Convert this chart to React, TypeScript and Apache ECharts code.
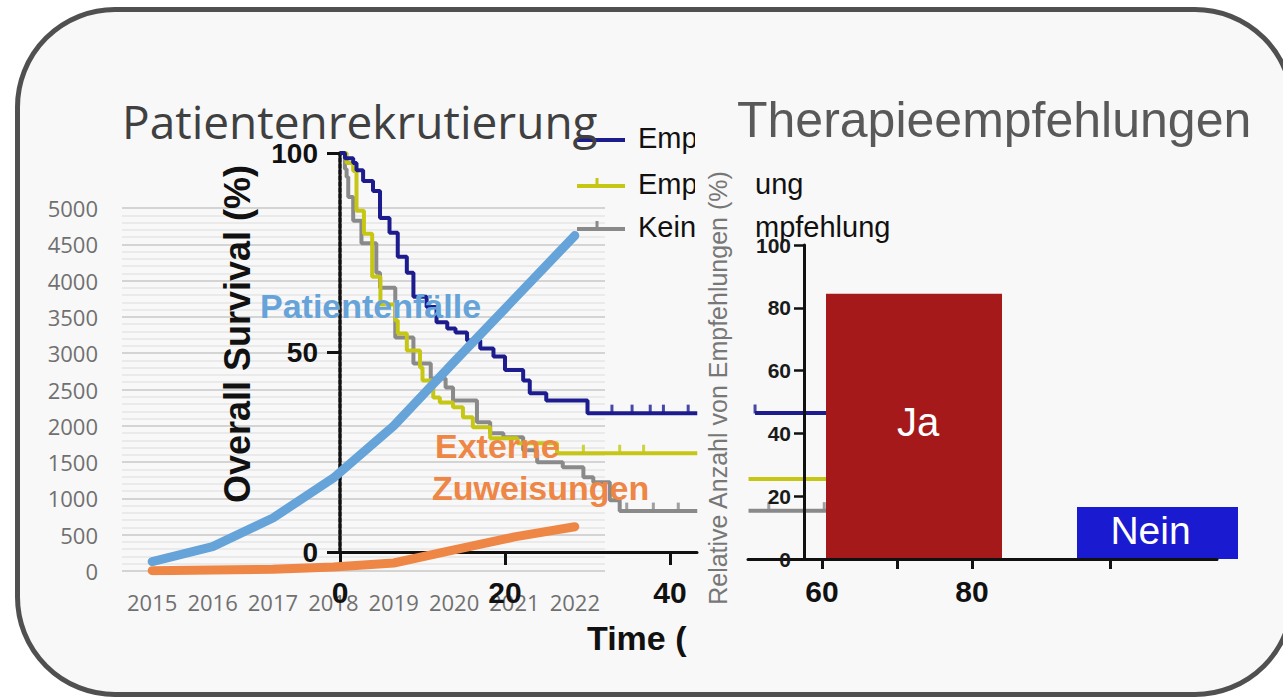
import React, { useEffect, useRef } from "react";
import * as echarts from "echarts";

// ---------- data ----------
const years = ["2015", "2016", "2017", "2018", "2019", "2020", "2021", "2022"];
const patientCases = [130, 335, 730, 1280, 2000, 2880, 3750, 4620];
const externalReferrals = [5, 15, 25, 55, 110, 290, 470, 610];

// Kaplan-Meier curves: [time, survival %]
const kmImplemented = [
  [0, 100], [0.6, 98.7], [1.6, 97.5], [2, 95.7], [2.8, 93], [4, 90.5], [4.85, 83.7], [6, 80],
  [7, 74], [8.1, 70], [8.9, 64], [10.5, 61.4], [11.7, 57.6], [13, 56], [14, 55], [15.4, 53],
  [17, 51], [18.6, 49], [20, 45.6], [22.2, 43], [23, 39.8], [25, 38], [30, 34.8], [43.3, 34.8],
];
const kmNotImplemented = [
  [0, 100], [0.8, 97.5], [1.6, 95.5], [2, 85.5], [2.9, 79.75], [3.9, 69], [4.9, 62], [6.7, 58],
  [7, 54.75], [8.1, 50.5], [9.7, 46.25], [10, 43], [11.3, 38.75], [12.1, 37.5], [13.7, 36.25],
  [14.9, 33.75], [16.1, 31.25], [18.2, 28.5], [21.5, 27.25], [26.3, 24.75], [43.3, 24.75],
];
const kmNoRecommendation = [
  [0, 100], [0.6, 96], [0.8, 94], [1, 89], [1.6, 83], [2.6, 77.4], [4.4, 70], [4.85, 66.25],
  [6.7, 53.75], [8.9, 47.25], [11, 43.5], [12.8, 41.25], [13.7, 38], [16.6, 32.5], [18.2, 29.75],
  [19.8, 28.75], [22.2, 25.5], [23.9, 22.5], [27, 21.25], [29.5, 18.75], [30.7, 17.5], [32.7, 13],
  [33.9, 10.25], [43.3, 10.25],
];
const censorImplemented = [[32.96, 34.8], [35.4, 34.8], [37.6, 34.8], [39.2, 34.8], [42.2, 34.8]];
const censorNotImplemented = [[29.5, 24.75], [33.9, 24.75], [36.8, 24.75]];
const censorNone = [[34.75, 10.25], [37.98, 10.25], [41.0, 10.25]];

// curve pieces visible in the right panel (bar-chart scale)
const panelImplemented = [[51.07, 46.5], [62.4, 46.5]];
const panelNotImplemented = [[50.2, 25.5], [62.4, 25.5]];
const panelNone = [[50.2, 15.4], [60.6, 15.4]];
const panelCensorImplemented = [[51.07, 46.5]];
const panelCensorNone = [[52.9, 15.4], [60.3, 15.4]];

const barCategories = ["Ja", "Nein"];
const barValues = [84.5, 16.6];

const kmTimeTicks = [0, 20, 40];
const barXTicks = [60, 70, 80, 98.4];
const barXLabels = [60, 80];

const legendFragments = ["Empf", "Empf", "Kein"];
const legendTails = ["ung", "mpfehlung"];

// ---------- styles ----------
const ARIAL = '"Liberation Sans", Arial, sans-serif';
const OPEN = '"Open Sans", sans-serif';
const BG = "#f8f8f8";
const NAVY = "#1c1c8e";
const YELLOW = "#c6c615";
const GRAY = "#8a8a8a";
const BLUE = "#66a3d8";
const ORANGE = "#ee8646";

function buildOption() {
  const txt = (text: string, x: number, y: number, size: number, fill: string, extra: any = {}, z = 6) => ({
    type: "text",
    x,
    y,
    z,
    rotation: extra.rotation || 0,
    style: {
      text,
      fill,
      fontSize: size,
      fontFamily: extra.family || ARIAL,
      fontWeight: extra.weight || "normal",
      align: extra.align || "left",
      verticalAlign: "middle",
    },
  });
  const lineEl = (x1: number, y1: number, x2: number, y2: number, stroke: string, w = 4, z = 4) => ({
    type: "line",
    z,
    shape: { x1, y1, x2, y2 },
    style: { stroke, lineWidth: w },
  });

  const legendColors = [NAVY, YELLOW, GRAY];
  const legendY = [138, 184, 227];

  const graphic: any[] = [
    txt("Patientenrekrutierung", 122, 121, 46, "#404040", { family: OPEN }, 6),
    txt("Patientenfälle", 260, 306, 34, BLUE, { weight: "bold" }, 6),
    txt("Externe", 435, 446, 34, ORANGE, { weight: "bold" }, 6),
    txt("Zuweisungen", 432, 488, 34, ORANGE, { weight: "bold" }, 6),
    txt("Overall Survival (%)", 237, 334, 36, "#111", { weight: "bold", rotation: Math.PI / 2, align: "center" }, 3),
    txt("Time (", 587, 638, 34, "#111", { weight: "bold" }, 3),
  ];
  legendFragments.forEach((t, i) => {
    graphic.push(lineEl(577, legendY[i] + 2, 625, legendY[i] + 2, legendColors[i]));
    if (i > 0) graphic.push(lineEl(597, legendY[i] + 2, 597, legendY[i] - 6, legendColors[i], 3));
    graphic.push(txt(t, 638, legendY[i], 29, "#111", {}, 4));
  });
  graphic.push({ type: "rect", z: 7, shape: { x: 695, y: 112, width: 58, height: 140 }, style: { fill: BG } });
  graphic.push(txt("Therapieempfehlungen", 737, 120, 50, "#595959", {}, 10));
  graphic.push(txt(legendTails[0], 755, 184, 29, "#111", {}, 10));
  graphic.push(txt(legendTails[1], 755, 227, 29, "#111", {}, 10));
  graphic.push(
    txt("Relative Anzahl von Empfehlungen (%)", 718, 388, 25, "#777", { rotation: Math.PI / 2, align: "center" }, 10)
  );

  const kmLine = (name: string, data: number[][], color: string) => ({
    type: "line",
    name,
    xAxisIndex: 1,
    yAxisIndex: 1,
    data,
    step: "end",
    showSymbol: false,
    lineStyle: { color, width: 4 },
    z: 3,
  });
  const censor = (data: number[][], color: string, xi: number, yi: number, z: number) => ({
    type: "scatter",
    xAxisIndex: xi,
    yAxisIndex: yi,
    data,
    symbol: "rect",
    symbolSize: [3, 9],
    symbolOffset: [0, -4],
    itemStyle: { color },
    z,
    clip: false,
  });
  const panelLine = (data: number[][], color: string) => ({
    type: "line",
    xAxisIndex: 2,
    yAxisIndex: 2,
    data,
    showSymbol: false,
    lineStyle: { color, width: 4 },
    z: 8,
  });
  const barLabel = (size: number, offset: number[]) => ({
    show: true,
    position: "inside",
    formatter: "{b}",
    color: "#fff",
    fontSize: size,
    fontFamily: ARIAL,
    offset,
  });

  return {
    animation: false,
    backgroundColor: "transparent",
    graphic,
    grid: [
      { left: 122, right: 678, top: 208, bottom: 128 },
      { left: 340, right: 586, top: 153, bottom: 147 },
      { left: 748, right: 66, top: 245, bottom: 140 },
      { left: 826, right: 281, top: 245, bottom: 140 },
      { left: 1077, right: 45, top: 245, bottom: 140 },
    ],
    xAxis: [
      {
        gridIndex: 0,
        type: "category",
        data: years,
        boundaryGap: true,
        axisLine: { show: false },
        axisTick: { show: false },
        axisLabel: { color: "#707070", fontSize: 22, fontFamily: OPEN, margin: 20, interval: 0 },
        z: 0,
      },
      {
        gridIndex: 1,
        type: "value",
        min: 0,
        max: 43.27,
        splitLine: { show: false },
        axisLine: { lineStyle: { color: "#111", width: 3 } },
        axisTick: { customValues: kmTimeTicks, length: 13, lineStyle: { color: "#111", width: 3 } },
        axisLabel: { customValues: kmTimeTicks, fontSize: 30, fontWeight: "bold", color: "#111", fontFamily: ARIAL, margin: 25 },
        z: 3,
      },
      {
        gridIndex: 2,
        type: "value",
        min: 50.13,
        max: 112.67,
        splitLine: { show: false },
        axisLine: { lineStyle: { color: "#111", width: 3 } },
        axisTick: { customValues: barXTicks, length: 10, lineStyle: { color: "#111", width: 3 } },
        axisLabel: { customValues: barXLabels, fontSize: 30, fontWeight: "bold", color: "#111", fontFamily: ARIAL, margin: 17 },
        z: 10,
      },
      { gridIndex: 3, type: "category", data: [barCategories[0]], show: false },
      { gridIndex: 4, type: "category", data: [barCategories[1]], show: false },
    ],
    yAxis: [
      {
        gridIndex: 0,
        type: "value",
        min: 0,
        max: 5000,
        interval: 500,
        axisLine: { show: false },
        axisTick: { show: false },
        axisLabel: { color: "#707070", fontSize: 22, fontFamily: OPEN, margin: 24, formatter: (v: number) => String(v) },
        splitLine: { show: true, lineStyle: { color: "#d4d4d4", width: 2 } },
        minorTick: { show: false, splitNumber: 5 },
        minorSplitLine: { show: true, lineStyle: { color: "#e6e6e6", width: 1.5 } },
        z: 0,
      },
      {
        gridIndex: 1,
        type: "value",
        min: 0,
        max: 100,
        interval: 50,
        splitLine: { show: false },
        axisLine: { show: true, lineStyle: { color: "#111", width: 3.5, type: [4, 2] } },
        axisTick: { show: true, length: 13, lineStyle: { color: "#111", width: 3 } },
        axisLabel: { fontSize: 28, fontWeight: "bold", color: "#111", fontFamily: ARIAL, margin: 22 },
        z: 3,
      },
      {
        gridIndex: 2,
        type: "value",
        min: 0,
        max: 100,
        interval: 20,
        offset: -56,
        splitLine: { show: false },
        axisLine: { show: true, lineStyle: { color: "#111", width: 3 } },
        axisTick: { show: true, length: 10, lineStyle: { color: "#111", width: 2.5 } },
        axisLabel: { fontSize: 21, fontWeight: "bold", color: "#1a1a1a", fontFamily: ARIAL, margin: 13 },
        z: 10,
      },
      { gridIndex: 3, type: "value", min: 0, max: 100, show: false },
      { gridIndex: 4, type: "value", min: 0, max: 100, show: false },
    ],
    series: [
      kmLine("Keine Empfehlung", kmNoRecommendation, GRAY),
      kmLine("Empfehlung nicht umgesetzt", kmNotImplemented, YELLOW),
      kmLine("Empfehlung umgesetzt", kmImplemented, NAVY),
      censor(censorNone, GRAY, 1, 1, 3),
      censor(censorNotImplemented, YELLOW, 1, 1, 3),
      censor(censorImplemented, NAVY, 1, 1, 3),
      {
        type: "line",
        name: "Patientenfälle",
        xAxisIndex: 0,
        yAxisIndex: 0,
        data: patientCases,
        showSymbol: false,
        lineStyle: { color: BLUE, width: 9, cap: "round", join: "round" },
        z: 5,
      },
      {
        type: "line",
        name: "Externe Zuweisungen",
        xAxisIndex: 0,
        yAxisIndex: 0,
        data: externalReferrals,
        showSymbol: false,
        lineStyle: { color: ORANGE, width: 9, cap: "round", join: "round" },
        z: 5,
      },
      panelLine(panelNone, GRAY),
      panelLine(panelNotImplemented, YELLOW),
      panelLine(panelImplemented, NAVY),
      censor(panelCensorNone, GRAY, 2, 2, 8),
      censor(panelCensorImplemented, NAVY, 2, 2, 8),
      {
        type: "bar",
        name: barCategories[0],
        xAxisIndex: 3,
        yAxisIndex: 3,
        data: [barValues[0]],
        barWidth: "100%",
        itemStyle: { color: "#a6191b" },
        label: barLabel(40, [4, -4]),
        z: 9,
      },
      {
        type: "bar",
        name: barCategories[1],
        xAxisIndex: 4,
        yAxisIndex: 4,
        data: [barValues[1]],
        barWidth: "100%",
        itemStyle: { color: "#1a1ad0" },
        label: barLabel(39, [-7, -2]),
        z: 9,
      },
    ],
  };
}

export default function App() {
  const ref = useRef<HTMLDivElement>(null);
  useEffect(() => {
    if (!ref.current) return;
    const chart = echarts.init(ref.current, undefined, { renderer: "svg" });
    chart.setOption(buildOption() as any);
    return () => chart.dispose();
  }, []);
  return (
    <div
      style={{
        position: "fixed",
        left: 0,
        top: 0,
        width: 1283,
        height: 699,
        overflow: "hidden",
        background: "#ffffff",
      }}
    >
      <div
        style={{
          position: "absolute",
          left: 15,
          top: 7,
          width: 1270,
          height: 680,
          border: "5px solid #505050",
          borderRadius: 100,
          background: BG,
        }}
      />
      <div ref={ref} style={{ position: "absolute", left: 0, top: 0, width: 1283, height: 699 }} />
    </div>
  );
}
